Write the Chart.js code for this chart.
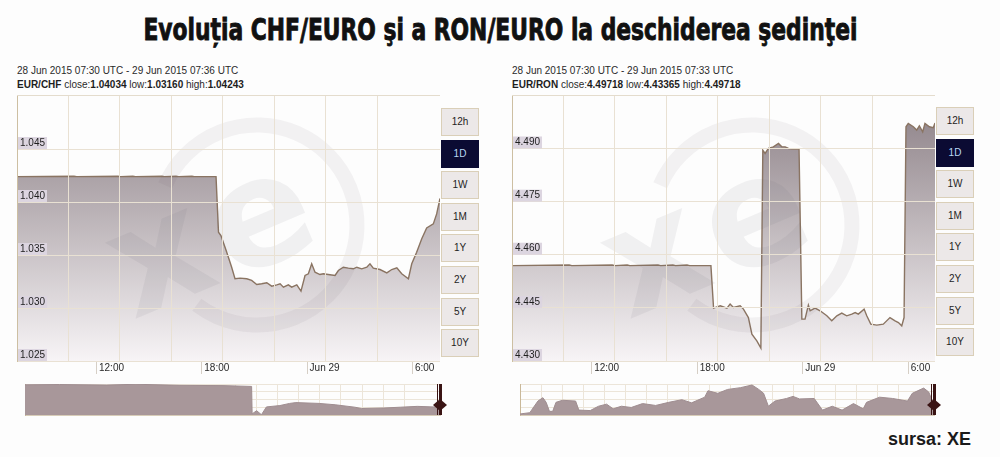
<!DOCTYPE html>
<html><head><meta charset="utf-8">
<script src="https://cdn.jsdelivr.net/npm/chart.js@4.4.1/dist/chart.umd.min.js"></script>
<style>
html,body{margin:0;padding:0;background:#fdfdfd;}
body{width:1000px;height:457px;position:relative;overflow:hidden;font-family:"Liberation Sans",Arial,sans-serif;color:#333;}
#title{position:absolute;left:0;top:14px;width:1000px;text-align:center;font-family:"Liberation Sans Narrow","Arial Narrow","DejaVu Sans Condensed",sans-serif;font-weight:bold;font-size:31px;line-height:31px;color:#111;white-space:nowrap;-webkit-text-stroke:0.9px #111;}
#title span{display:inline-block;transform-origin:50% 50%;}
.hdr{position:absolute;font-size:10px;line-height:13.6px;color:#2a2a2a;white-space:nowrap;}
.hdr b{color:#1e1e1e;}
canvas{position:absolute;}
.btn{position:absolute;width:36px;height:26px;border:1px solid #dacfb8;background:#ece8e8;font-size:10px;line-height:26px;text-align:center;color:#1e1e1e;}
.btn.sel{background:#0b0b33;border-color:#0b0b33;color:#b8d8f4;}
#src{position:absolute;left:888px;top:430px;font-weight:bold;font-size:18px;line-height:18px;color:#1a1a1a;}
</style></head>
<body>
<div id="title"><span id="tspan">Evoluția CHF/EURO şi a RON/EURO la deschiderea şedinţei</span></div>
<div class="hdr" style="left:17px;top:64px">28 Jun 2015 07:30 UTC - 29 Jun 2015 07:36 UTC<br><b>EUR/CHF</b> close:<b>1.04034</b> low:<b>1.03160</b> high:<b>1.04243</b></div>
<div class="hdr" style="left:512px;top:64px">28 Jun 2015 07:30 UTC - 29 Jun 2015 07:33 UTC<br><b>EUR/RON</b> close:<b>4.49718</b> low:<b>4.43365</b> high:<b>4.49718</b></div>
<canvas id="chfMain" width="429" height="280" style="left:11px;top:95px"></canvas>
<canvas id="ronMain" width="429" height="280" style="left:506px;top:95px"></canvas>
<canvas id="chfNav" width="431" height="39" style="left:17px;top:384px"></canvas>
<canvas id="ronNav" width="430" height="39" style="left:512px;top:384px"></canvas>
<div id="src">sursa: XE</div>
<script>
// ---------- data ----------
const xTickHours = [4.5, 10.5, 16.5, 22.5];           // hours after 28 Jun 07:30 UTC
const xTickLabels = ['12:00', '18:00', 'Jun 29', '6:00'];
const rangeButtons = ['12h', '1D', '1W', '1M', '1Y', '2Y', '5Y', '10Y'];
const selectedRange = '1D';

const chfYTicks = [1.025, 1.030, 1.035, 1.040, 1.045];
const chfYMin = 1.025, chfYMax = 1.0501, chfSpan = 24.1;
const chfHours = [0, 3.25, 3.4, 5.75, 5.9, 6.6, 6.75, 8.26, 8.4, 9.06, 9.2, 9.97, 10.1, 11.34, 11.48, 11.62, 11.95, 12.23, 12.42, 12.71, 13.09, 13.37, 13.66, 13.94, 14.23, 14.51, 14.80, 14.99, 15.18, 15.46, 15.65, 15.94, 16.18, 16.41, 16.60, 16.79, 16.98, 17.26, 17.45, 17.83, 18.12, 18.31, 18.59, 18.88, 19.16, 19.36, 19.64, 19.93, 20.11, 20.30, 20.68, 21.07, 21.35, 21.64, 21.92, 22.30, 22.49, 22.77, 23.06, 23.34, 23.72, 23.91, 24.1];
const chfValues = [1.04240, 1.04243, 1.04240, 1.04243, 1.04240, 1.04243, 1.04240, 1.04243, 1.04240, 1.04243, 1.04240, 1.04243, 1.04240, 1.04240, 1.03715, 1.03684, 1.03526, 1.03385, 1.03276, 1.03282, 1.03276, 1.03260, 1.03222, 1.03229, 1.03238, 1.03206, 1.03219, 1.03229, 1.03197, 1.03219, 1.03197, 1.03219, 1.03160, 1.03307, 1.03323, 1.03417, 1.03338, 1.03316, 1.03323, 1.03314, 1.03307, 1.03354, 1.03385, 1.03376, 1.03370, 1.03385, 1.03370, 1.03385, 1.03417, 1.03376, 1.03363, 1.03332, 1.03363, 1.03379, 1.03323, 1.03276, 1.03417, 1.03526, 1.03653, 1.03756, 1.03794, 1.03888, 1.04034];

const ronYTicks = [4.430, 4.445, 4.460, 4.475, 4.490];
const ronYMin = 4.430, ronYMax = 4.5051, ronSpan = 24.05;
const ronHours = [0, 3.25, 3.4, 5.7, 5.85, 6.55, 6.7, 8.3, 8.45, 9.15, 9.3, 9.95, 10.1, 11.31, 11.46, 11.84, 12.22, 12.40, 12.59, 12.97, 13.16, 13.44, 13.64, 13.92, 14.15, 14.26, 14.39, 14.58, 14.86, 15.15, 15.34, 15.53, 15.72, 16.00, 16.32, 16.48, 16.66, 16.85, 16.95, 17.23, 17.52, 17.90, 18.18, 18.47, 18.75, 19.03, 19.32, 19.51, 19.69, 20.02, 20.17, 20.40, 20.74, 21.11, 21.49, 21.78, 21.97, 22.16, 22.29, 22.40, 22.53, 22.82, 23.01, 23.16, 23.35, 23.48, 23.73, 23.95, 24.05];
const ronValues = [4.45693, 4.45710, 4.45693, 4.45710, 4.45693, 4.45710, 4.45693, 4.45710, 4.45693, 4.45710, 4.45693, 4.45710, 4.45693, 4.45693, 4.44494, 4.44559, 4.44494, 4.44607, 4.44511, 4.44559, 4.44465, 4.44227, 4.43757, 4.43567, 4.43365, 4.48952, 4.48859, 4.49001, 4.49046, 4.49142, 4.49046, 4.49046, 4.49001, 4.48981, 4.48981, 4.44182, 4.44182, 4.44579, 4.44417, 4.44494, 4.44417, 4.44276, 4.44134, 4.44276, 4.44352, 4.44276, 4.44324, 4.44369, 4.44324, 4.44465, 4.44276, 4.44040, 4.44012, 4.44040, 4.44227, 4.44134, 4.44086, 4.43992, 4.44227, 4.49613, 4.49709, 4.49613, 4.49519, 4.49641, 4.49471, 4.49709, 4.49613, 4.49585, 4.49718];

// navigator (overview) series
const navChfMin = 1.0312, navChfMax = 1.0427;
const navChfHours = [0, 2.0, 4.73, 6.44, 9.0, 11.5, 13.16, 13.19, 13.45, 13.73, 14.02, 14.80, 15.37, 15.73, 17.08, 18.01, 19.15, 19.54, 20.85, 21.82, 22.78, 23.70, 24.1];
const navChfValues = [1.0424, 1.0425, 1.0423, 1.0426, 1.0422, 1.0421, 1.0418, 1.0316, 1.0328, 1.0313, 1.0342, 1.0347, 1.0355, 1.0358, 1.0355, 1.0350, 1.0341, 1.0336, 1.0338, 1.0341, 1.0344, 1.0342, 1.0344];
const navRonMin = 4.40, navRonMax = 4.50;
const navRonHours = [0, 0.57, 1.04, 1.33, 1.52, 1.71, 1.90, 2.09, 2.47, 3.23, 3.42, 4.08, 4.56, 5.03, 5.41, 5.89, 6.46, 7.12, 7.88, 8.64, 9.40, 9.97, 10.73, 10.92, 11.49, 12.06, 12.82, 13.48, 13.87, 14.15, 14.43, 14.81, 15.48, 15.86, 16.24, 17.09, 17.57, 18.14, 18.71, 19.37, 19.94, 20.13, 20.89, 21.65, 22.51, 22.79, 23.45, 23.74, 23.93, 24.05];
const navRonValues = [4.4033, 4.4075, 4.4450, 4.4558, 4.4408, 4.4118, 4.4118, 4.4408, 4.4475, 4.4450, 4.4158, 4.4143, 4.4283, 4.4350, 4.4200, 4.4283, 4.4243, 4.4368, 4.4308, 4.4408, 4.4493, 4.4393, 4.4575, 4.4783, 4.4700, 4.4825, 4.4883, 4.4968, 4.4825, 4.4700, 4.4283, 4.4450, 4.4533, 4.4600, 4.4518, 4.4533, 4.4158, 4.4283, 4.4158, 4.4368, 4.4200, 4.4408, 4.4575, 4.4533, 4.4450, 4.4700, 4.4868, 4.4743, 4.4493, 4.4450];

// ---------- styling ----------
const GRID = '#e9e1d3';
const AXIS = '#cdbfa2';
const LINE = '#8a7462';

// title fit
(function(){
  const s = document.getElementById('tspan');
  const w = s.getBoundingClientRect().width;
  s.style.transform = 'scaleX(' + (714 / w) + ')';
})();

// buttons
function addButtons(left, top) {
  rangeButtons.forEach((b, i) => {
    const d = document.createElement('div');
    d.className = 'btn' + (b === selectedRange ? ' sel' : '');
    d.style.left = left + 'px';
    d.style.top = (top + i * 31.6) + 'px';
    d.textContent = b;
    document.body.appendChild(d);
  });
}
addButtons(441, 108);
addButtons(936, 107);

const watermark = {
  id: 'watermark',
  afterDatasetsDraw(chart) {
    const {ctx, chartArea: a} = chart;
    ctx.save();
    ctx.beginPath(); ctx.rect(a.left, a.top, a.right - a.left, a.bottom - a.top); ctx.clip();
    const cx = a.left + 240, cy = a.top + 130;
    ctx.strokeStyle = 'rgba(110,100,112,0.075)';
    ctx.lineWidth = 15;
    ctx.beginPath(); ctx.arc(cx, cy, 100, 3.55, 8.5); ctx.stroke();
    ctx.fillStyle = 'rgba(110,100,112,0.085)';
    ctx.font = 'bold 150px "DejaVu Sans"';
    ctx.textAlign = 'center'; ctx.textBaseline = 'middle';
    ctx.translate(a.left + 146, a.top + 170); ctx.rotate(-0.4);
    ctx.fillText('x', 0, 0);
    ctx.rotate(0.4); ctx.translate(100, -40); ctx.rotate(-0.4);
    ctx.fillText('e', 0, 0);
    ctx.restore();
  }
};

// top frame line + x-axis tick marks (positions taken from the x scale)
const frame = {
  id: 'frame',
  afterDraw(chart) {
    const {ctx, chartArea: a} = chart;
    const xs = chart.scales.x;
    ctx.save();
    ctx.lineWidth = 1;
    ctx.strokeStyle = '#e4dccd';
    ctx.beginPath();
    ctx.moveTo(a.left, a.top + 0.5); ctx.lineTo(a.right, a.top + 0.5);
    ctx.stroke();
    ctx.strokeStyle = '#d6cfc6';
    ctx.beginPath();
    xs.ticks.forEach(t => {
      const px = Math.round(xs.getPixelForValue(t.value)) + 0.5;
      ctx.moveTo(px, a.bottom + 1); ctx.lineTo(px, a.bottom + 13);
    });
    ctx.stroke();
    ctx.restore();
  }
};

function fillGradient(ctx) {
  const chart = ctx.chart;
  const a = chart.chartArea;
  if (!a) return 'rgba(170,160,165,0.6)';
  const g = chart.ctx.createLinearGradient(0, a.top, 0, a.bottom);
  g.addColorStop(0, 'rgb(138,126,132)');
  g.addColorStop(1, 'rgb(247,244,246)');
  return g;
}

const noPad = (axis) => { axis.paddingTop = 0; axis.paddingBottom = 0; axis.paddingLeft = 0; axis.paddingRight = 0; };

function mainChart(id, hours, values, yTicks, yMin, yMax, span) {
  return new Chart(document.getElementById(id), {
    type: 'line',
    data: {
      datasets: [{
        data: hours.map((h, i) => ({x: h, y: values[i]})),
        borderColor: LINE,
        borderWidth: 1.4,
        backgroundColor: fillGradient,
        fill: 'start',
        pointRadius: 0,
        tension: 0
      }]
    },
    options: {
      responsive: false,
      animation: false,
      devicePixelRatio: 1,
      layout: {padding: 0},
      plugins: {legend: {display: false}, tooltip: {enabled: false}},
      scales: {
        x: {
          type: 'linear', position: 'bottom', min: 0, max: span,
          afterBuildTicks: (axis) => { axis.ticks = xTickHours.map(v => ({value: v})); },
          afterFit: noPad,
          ticks: {
            callback: (v, i) => xTickLabels[i],
            align: 'start', labelOffset: 3, padding: 1, maxRotation: 0, autoSkip: false,
            color: '#2a2a2a', font: {family: '"Liberation Sans", Arial', size: 10}
          },
          grid: {display: true, drawOnChartArea: false, drawTicks: false},
          border: {display: true, color: AXIS, width: 1, z: 1}
        },
        xg: {
          type: 'linear', position: 'top', min: 0, max: 8.225,
          afterFit: noPad,
          ticks: {display: false, stepSize: 1},
          grid: {color: GRID, drawTicks: false, z: 1},
          border: {display: false}
        },
        y: {
          type: 'linear', position: 'left', min: yMin, max: yMax,
          afterBuildTicks: (axis) => { axis.ticks = yTicks.map(v => ({value: v})); },
          afterFit: noPad,
          ticks: {
            callback: (v) => v.toFixed(3),
            mirror: true, padding: 3, labelOffset: -6, z: 1,
            showLabelBackdrop: true, backdropColor: '#dcd5e0',
            backdropPadding: {left: 2, right: 2, top: 0, bottom: 0},
            color: '#1e1e1e', font: {family: '"Liberation Sans", Arial', size: 10}
          },
          grid: {color: GRID, drawTicks: false, z: 1},
          border: {display: true, color: AXIS, width: 1, z: 1}
        }
      }
    },
    plugins: [watermark, frame]
  });
}

const handle = {
  id: 'handle',
  afterDatasetsDraw(chart) {
    const {ctx, chartArea: a} = chart;
    const xs = chart.scales.x;
    const x = Math.round(xs.getPixelForValue(xs.max));
    ctx.save();
    ctx.fillStyle = '#3a1414';
    ctx.fillRect(x - 3, a.top, 1, a.bottom - a.top);
    ctx.fillRect(x - 1, a.top, 3, a.bottom - a.top);
    const cy = a.top + 21;
    ctx.beginPath();
    ctx.moveTo(x - 7, cy); ctx.lineTo(x, cy - 6); ctx.lineTo(x + 7, cy); ctx.lineTo(x, cy + 6); ctx.closePath();
    ctx.fill();
    ctx.restore();
  }
};

function navChart(id, hours, values, yMin, yMax, span) {
  return new Chart(document.getElementById(id), {
    type: 'line',
    data: {
      datasets: [{
        data: hours.map((h, i) => ({x: h, y: values[i]})),
        borderColor: '#9f8d90',
        borderWidth: 1,
        backgroundColor: '#a8979a',
        fill: 'start',
        pointRadius: 0,
        tension: 0
      }]
    },
    options: {
      responsive: false,
      animation: false,
      devicePixelRatio: 1,
      layout: {padding: {top: 0, left: 0, right: 8, bottom: 0}},
      plugins: {legend: {display: false}, tooltip: {enabled: false}},
      scales: {
        x: {type: 'linear', min: 0, max: span, ticks: {display: false}, grid: {display: false}, border: {display: true, color: '#d8cdb8'}},
        xg: {type: 'linear', position: 'top', min: 0, max: 19.7, ticks: {display: false, stepSize: 1}, grid: {color: '#ece5d9', drawTicks: false}, border: {display: false}},
        y: {type: 'linear', min: yMin, max: yMax, ticks: {display: false}, grid: {display: false}, border: {display: true, color: '#c9b899'}},
        yg: {type: 'linear', position: 'right', min: 0, max: 4, ticks: {display: false, stepSize: 1}, grid: {color: '#ece5d9', drawTicks: false}, border: {display: false}}
      }
    },
    plugins: [handle]
  });
}

mainChart('chfMain', chfHours, chfValues, chfYTicks, chfYMin, chfYMax, chfSpan);
mainChart('ronMain', ronHours, ronValues, ronYTicks, ronYMin, ronYMax, ronSpan);
navChart('chfNav', navChfHours, navChfValues, navChfMin, navChfMax, chfSpan);
navChart('ronNav', navRonHours, navRonValues, navRonMin, navRonMax, ronSpan);
</script>
</body></html>
